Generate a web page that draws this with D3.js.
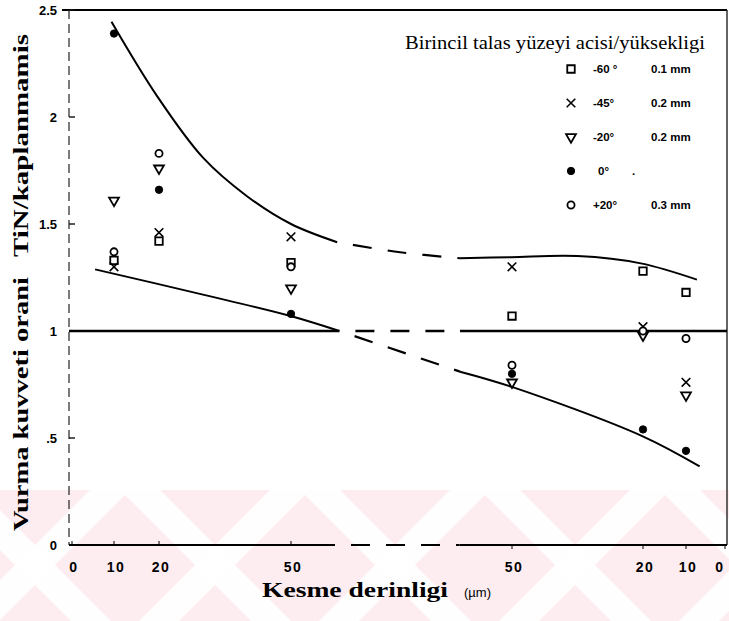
<!DOCTYPE html>
<html><head><meta charset="utf-8">
<script src="https://cdn.jsdelivr.net/npm/d3@7"></script>
<style>body{margin:0;background:#fff} svg{display:block}</style>
</head><body><svg id="c" width="729" height="621"></svg>
<script>
// ---------- data ----------
const leftDepths = [10, 20, 50];          // µm, left branch
const rightDepths = [50, 20, 10];         // µm, right branch
const leftTicks = [0, 10, 20, 50];
const rightTicks = [50, 20, 10, 0];
const yTicks = [0, 0.5, 1, 1.5, 2, 2.5];
const yTickLabels = ["0", ".5", "1", "1.5", "2", "2.5"];

const seriesAngles = ["-60 °", "-45°", "-20°", "0°", "+20°"];
const seriesHeights = ["0.1 mm", "0.2 mm", "0.2 mm", ".", "0.3 mm"];
const seriesSymbols = ["square", "times", "triangleDown", "dot", "circle"];

const sq60Left  = [1.33, 1.42, 1.32], sq60Right  = [1.07, 1.28, 1.18];
const x45Left   = [1.30, 1.46, 1.44], x45Right   = [1.30, 1.02, 0.76];
const tri20Left = [1.61, 1.76, 1.20], tri20Right = [0.76, 0.98, 0.70];
const f0Left    = [2.39, 1.66, 1.08], f0Right    = [0.80, 0.54, 0.44];
const o20Left   = [1.37, 1.83, 1.30], o20Right   = [0.84, 1.00, 0.965];

// fitted curves: [side, depth, value]
const upperLeft  = [["L",9.4,2.445],["L",19.5,2.10],["L",30,1.81],["L",40,1.63],["L",50,1.50],["L",60.5,1.415]];
const upperMid   = [["L",60.5,1.415],["L",74.8,1.368],["R",61.9,1.34]];
const upperRight = [["R",61.9,1.34],["R",50.2,1.345],["R",35,1.35],["R",20.5,1.316],["R",7.2,1.24]];
const lowerLeft  = [["L",5.5,1.288],["L",30,1.17],["L",49.9,1.07],["L",61,1.0]];
const lowerMid   = [["L",61,1.0],["R",61.9,0.81]];
const lowerRight = [["R",61.9,0.81],["R",50.2,0.74],["R",20.3,0.51],["R",6.5,0.367]];

// ---------- scales ----------
const svg = d3.select("#c");
const y = d3.scaleLinear().domain([0, 2.5]).range([545, 10]);
const xL = d3.scaleLinear().domain([0, 10, 20, 50]).range([72, 114, 159, 291]);
const xR = d3.scaleLinear().domain([0, 10, 20, 50]).range([725, 686, 643, 512]);
const px = p => p[0] === "L" ? xL(p[1]) : xR(p[1]);
const X0 = 69, X1 = 727;

// ---------- watermark band ----------
const wm = svg.append("g");
wm.append("rect").attr("x",0).attr("y",490).attr("width",729).attr("height",131).attr("fill","#fdedf0");
const stripeStarts = [-60, 120, 300, 480, 660];
stripeStarts.forEach(s => {
  wm.append("path").attr("fill","#fff").attr("opacity",0.9)
    .attr("d",`M${s},490 L${s+40},490 L${s+40+131},621 L${s+131},621 Z`);
  wm.append("path").attr("fill","#fff").attr("opacity",0.9)
    .attr("d",`M${s+150},490 L${s+190},490 L${s+190-131},621 L${s+150-131},621 Z`);
});

// ---------- frame / axes ----------
const g = svg.append("g");
g.append("line").attr("x1",62).attr("x2",X1).attr("y1",y(2.5)).attr("y2",y(2.5))
  .attr("stroke","#000").attr("stroke-width",2.2);
g.append("line").attr("x1",X1).attr("x2",X1).attr("y1",y(2.5)).attr("y2",y(0))
  .attr("stroke","#111").attr("stroke-width",1.3);
g.append("line").attr("x1",X0).attr("x2",X0).attr("y1",y(2.5)).attr("y2",y(0))
  .attr("stroke","#222").attr("stroke-width",1.2).attr("stroke-dasharray","9 5");
yTicks.forEach(t => {
  g.append("line").attr("x1",X0).attr("x2",X0+6).attr("y1",y(t)).attr("y2",y(t))
    .attr("stroke","#111").attr("stroke-width",1.4);
});
g.selectAll("text.yt").data(yTicks).join("text").attr("class","yt")
  .attr("x",57).attr("y",t=>y(t)+5).attr("text-anchor","end")
  .attr("font-family","Liberation Sans, Arial, sans-serif").attr("font-weight","bold")
  .attr("font-size",13).text((t,i)=>yTickLabels[i]);

// horizontal lines (x-axis at 0, reference at 1) with broken middle
const dashStyle = sel => sel.attr("stroke-dasharray","19 16").attr("stroke-dashoffset",19);
function brokenH(v, lEnd, rStart, w) {
  g.append("line").attr("x1",X0).attr("x2",xL(lEnd)).attr("y1",y(v)).attr("y2",y(v))
    .attr("stroke","#000").attr("stroke-width",w);
  g.append("line").attr("x1",xL(lEnd)).attr("x2",xR(rStart)).attr("y1",y(v)).attr("y2",y(v))
    .attr("stroke","#000").attr("stroke-width",w).call(dashStyle);
  g.append("line").attr("x1",xR(rStart)).attr("x2",X1).attr("y1",y(v)).attr("y2",y(v))
    .attr("stroke","#000").attr("stroke-width",w);
}
brokenH(0, 60, 62, 2);
brokenH(1, 61, 61.9, 2.6);

// x ticks
leftTicks.forEach(t => {
  g.append("line").attr("x1",xL(t)).attr("x2",xL(t)).attr("y1",y(0)).attr("y2",y(0)-4)
    .attr("stroke","#000").attr("stroke-width",1);
});
rightTicks.forEach(t => {
  g.append("line").attr("x1",xR(t)).attr("x2",xR(t)).attr("y1",y(0)).attr("y2",y(0)+4)
    .attr("stroke","#000").attr("stroke-width",1);
});
const tickFont = sel => sel.attr("font-family","Liberation Sans, Arial, sans-serif")
  .attr("font-weight","bold").attr("font-size",14).attr("letter-spacing",1.5).attr("text-anchor","middle");
g.selectAll("text.xl").data(leftTicks).join("text").attr("class","xl")
  .attr("x",t=>xL(t)+2).attr("y",572).call(tickFont).text(t=>t);
g.selectAll("text.xr").data(rightTicks).join("text").attr("class","xr")
  .attr("x",t=>Math.min(xR(t)+2, 720)).attr("y",572).call(tickFont).text(t=>t);

// axis titles
svg.append("text").attr("x",262).attr("y",597)
  .attr("font-family","Liberation Serif, Times New Roman, serif").attr("font-weight","bold")
  .attr("font-size",22).attr("textLength",186).attr("lengthAdjust","spacingAndGlyphs")
  .text("Kesme derinligi");
svg.append("text").attr("x",464).attr("y",597)
  .attr("font-family","Liberation Sans, Arial, sans-serif")
  .attr("font-size",13).text("(µm)");
svg.append("text").attr("transform","translate(28,531) rotate(-90)")
  .attr("font-family","Liberation Serif, Times New Roman, serif").attr("font-weight","bold")
  .attr("font-size",21).attr("textLength",254).attr("lengthAdjust","spacingAndGlyphs")
  .text("Vurma kuvveti orani");
svg.append("text").attr("transform","translate(28,257) rotate(-90)")
  .attr("font-family","Liberation Serif, Times New Roman, serif").attr("font-weight","bold")
  .attr("font-size",21).attr("textLength",223).attr("lengthAdjust","spacingAndGlyphs")
  .text("TiN/kaplanmamis");

// ---------- curves ----------
const line = d3.line().x(px).y(p=>y(p[2])).curve(d3.curveCatmullRom.alpha(0.5));
[upperLeft, upperRight, lowerLeft, lowerRight].forEach(c => {
  g.append("path").attr("d",line(c)).attr("fill","none").attr("stroke","#000").attr("stroke-width",2);
});
[upperMid, lowerMid].forEach(c => {
  g.append("path").attr("d",line(c)).attr("fill","none").attr("stroke","#000").attr("stroke-width",2.2).call(dashStyle);
});

// ---------- markers ----------
const symTimes = d3.symbolTimes || d3.symbolX || d3.symbolCross;
function drawSym(sel, kind, cx, cy) {
  const t = `translate(${cx},${cy})`;
  if (kind === "square") sel.append("path").attr("d",d3.symbol(d3.symbolSquare,56)()).attr("transform",t)
      .attr("fill","#fff").attr("stroke","#000").attr("stroke-width",1.8);
  else if (kind === "times") sel.append("path").attr("d",d3.symbol(symTimes,50)()).attr("transform",t)
      .attr("fill","none").attr("stroke","#000").attr("stroke-width",1.6);
  else if (kind === "triangleDown") sel.append("path").attr("d",d3.symbol(d3.symbolTriangle,42)()).attr("transform",t+" rotate(180)")
      .attr("fill","#fff").attr("stroke","#000").attr("stroke-width",1.8);
  else if (kind === "dot") sel.append("path").attr("d",d3.symbol(d3.symbolCircle,42)()).attr("transform",t)
      .attr("fill","#000").attr("stroke","#000").attr("stroke-width",1);
  else sel.append("path").attr("d",d3.symbol(d3.symbolCircle,40)()).attr("transform",t)
      .attr("fill","#fff").attr("stroke","#000").attr("stroke-width",1.8);
}
const seriesLeft = [sq60Left, x45Left, tri20Left, f0Left, o20Left];
const seriesRight = [sq60Right, x45Right, tri20Right, f0Right, o20Right];
const mk = svg.append("g");
seriesLeft.forEach((vals,i) => vals.forEach((v,j) => drawSym(mk, seriesSymbols[i], xL(leftDepths[j]), y(v))));
seriesRight.forEach((vals,i) => vals.forEach((v,j) => drawSym(mk, seriesSymbols[i], xR(rightDepths[j]), y(v))));

// ---------- legend ----------
const lg = svg.append("g");
lg.append("text").attr("x",405).attr("y",49)
  .attr("font-family","Liberation Serif, Times New Roman, serif").attr("font-size",18)
  .attr("textLength",300).attr("lengthAdjust","spacingAndGlyphs")
  .text("Birincil talas yüzeyi acisi/yüksekligi");
seriesAngles.forEach((a,i) => {
  const cy = 69 + 34*i;
  drawSym(lg, seriesSymbols[i], 571, cy);
  lg.append("text").attr("x", i===3 ? 598 : 593).attr("y",cy+4)
    .attr("font-family","Liberation Sans, Arial, sans-serif").attr("font-weight","bold")
    .attr("font-size",11.5).text(a);
  lg.append("text").attr("x", i===3 ? 632 : 651).attr("y",cy+4)
    .attr("font-family","Liberation Sans, Arial, sans-serif").attr("font-weight","bold")
    .attr("font-size",11.5).text(seriesHeights[i]);
});
</script></body></html>
